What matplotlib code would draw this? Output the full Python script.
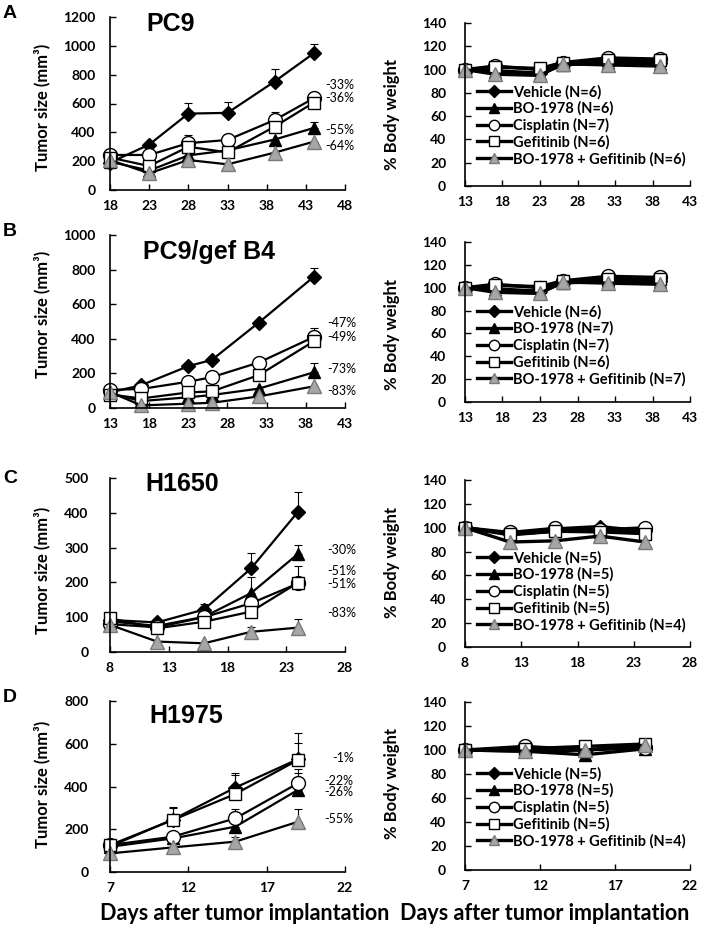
import matplotlib.pyplot as plt
import numpy as np

plt.rcParams['font.family'] = ['Lato', 'DejaVu Sans']
plt.rcParams['font.weight'] = 'bold'

nan = np.nan
series = ["Vehicle", "BO-1978", "Cisplatin", "Gefitinib", "BO-1978 + Gefitinib"]

# ---- A: PC9 tumor size ----
pc9_days = [18, 23, 28, 33, 39, 44]
pc9_vehicle = [190, 315, 530, 535, 752, 948]
pc9_vehicle_err = [nan, nan, 75, 75, 85, 62]
pc9_bo = [196, 135, 240, 275, 350, 430]
pc9_bo_err = [nan, nan, nan, nan, nan, 40]
pc9_cis = [243, 243, 325, 347, 485, 636]
pc9_cis_err = [nan, nan, 55, nan, 55, 40]
pc9_gef = [225, 166, 300, 261, 439, 606]
pc9_gef_err = [nan, nan, nan, nan, nan, nan]
pc9_combo = [208, 116, 208, 178, 259, 335]
pc9_combo_err = [nan, nan, nan, nan, nan, nan]
pc9_pct = ["-33%", "-36%", "-55%", "-64%"]
pc9_pct_y = [728, 638, 416, 305]
pc9_pct_x = [45.5, 45.5, 45.5, 45.5]

# ---- B: PC9/gef B4 tumor size ----
b4_days = [13, 17, 23, 26, 32, 39]
b4_vehicle = [90, 132, 242, 278, 494, 758]
b4_vehicle_err = [nan, nan, nan, nan, nan, 50]
b4_bo = [85, 40, 62, 75, 112, 206]
b4_bo_err = [nan, nan, nan, nan, nan, 57]
b4_cis = [105, 110, 152, 178, 263, 410]
b4_cis_err = [nan, nan, nan, nan, nan, 50]
b4_gef = [78, 55, 90, 96, 190, 385]
b4_gef_err = [nan, nan, nan, nan, nan, nan]
b4_combo = [92, 15, 25, 30, 67, 125]
b4_combo_err = [nan, nan, nan, nan, nan, nan]
b4_pct = ["-47%", "-49%", "-73%", "-83%"]
b4_pct_y = [490, 410, 225, 96]
b4_pct_x = [40.7, 40.7, 40.7, 40.7]

# ---- C: H1650 tumor size ----
h1650_days = [8, 12, 16, 20, 24]
h1650_vehicle = [92, 85, 122, 240, 403]
h1650_vehicle_err = [nan, nan, 15, 44, 57]
h1650_bo = [88, 75, 101, 169, 282]
h1650_bo_err = [nan, nan, nan, 47, 26]
h1650_cis = [80, 71, 100, 140, 197]
h1650_cis_err = [nan, nan, nan, nan, nan]
h1650_gef = [97, 68, 87, 116, 199]
h1650_gef_err = [nan, nan, nan, nan, 47]
h1650_combo = [78, 30, 25, 58, 70]
h1650_combo_err = [nan, nan, nan, 13, 25]
h1650_pct = ["-30%", "-51%", "-51%", "-83%"]
h1650_pct_y = [293, 233, 195, 111]
h1650_pct_x = [26.5, 26.5, 26.5, 26.5]

# ---- D: H1975 tumor size ----
h1975_days = [7, 11, 15, 19]
h1975_vehicle = [120, 245, 395, 528]
h1975_vehicle_err = [nan, 57, 68, 122]
h1975_bo = [118, 157, 212, 384]
h1975_bo_err = [nan, nan, nan, 80]
h1975_cis = [126, 165, 251, 415]
h1975_cis_err = [nan, nan, 45, 68]
h1975_gef = [126, 243, 365, 524]
h1975_gef_err = [nan, 55, 90, 80]
h1975_combo = [87, 115, 142, 235]
h1975_combo_err = [nan, nan, 23, 58]
h1975_pct = ["-1%", "-22%", "-26%", "-55%"]
h1975_pct_y = [533, 428, 376, 247]
h1975_pct_x = [21.2, 20.7, 20.7, 20.7]

# ---- body weight (%) ----
bw_ab_days = [13, 17, 23, 26, 32, 39]
bw_ab_vehicle = [100, 99, 97, 105, 107, 106]
bw_ab_bo = [100, 98, 96, 104, 106, 105]
bw_ab_cis = [100, 103, 100, 106, 110, 109]
bw_ab_gef = [100, 102, 101, 106, 108, 108]
bw_ab_combo = [100, 96, 95, 105, 104, 103]

bw_c_days = [8, 12, 16, 20, 24]
bw_c_vehicle = [100, 95, 99, 101, 97]
bw_c_bo = [100, 94, 97, 99, 96]
bw_c_cis = [100, 96, 99.5, 98, 100]
bw_c_gef = [100, 94.5, 97, 96.5, 95]
bw_c_combo = [100, 88, 89, 93, 88]

bw_d_days = [7, 11, 15, 19]
bw_d_vehicle = [100, 101, 100, 103]
bw_d_bo = [100, 99, 96, 101]
bw_d_cis = [100, 103, 100, 102]
bw_d_gef = [100, 101, 103, 105]
bw_d_combo = [100, 99, 100, 104]

n_a = [6, 6, 7, 6, 6]
n_b = [6, 7, 7, 6, 7]
n_c = [5, 5, 5, 5, 4]
n_d = [5, 5, 5, 5, 4]

styles = [
    dict(marker="D", ms=7.5, mfc="black", mec="black"),
    dict(marker="^", ms=9, mfc="black", mec="black"),
    dict(marker="o", ms=10, mfc="white", mec="black", mew=1),
    dict(marker="s", ms=9, mfc="white", mec="black", mew=1),
    dict(marker="^", ms=10.5, mfc="#a6a6a6", mec="#7a7a7a", mew=1),
]

W, H = 707, 926
fig = plt.figure(figsize=(W / 100, H / 100), dpi=100)


def px_axes(x0, x1, ytop, ybot):
    return fig.add_axes([x0 / W, 1 - ybot / H, (x1 - x0) / W, (ybot - ytop) / H])


def style_axes(ax, xlim, xstep, ylim, ystep, ypad):
    ax.set_xlim(*xlim)
    ax.set_ylim(*ylim)
    ax.set_xticks(np.arange(xlim[0], xlim[1] + 0.1, xstep))
    ax.set_yticks(np.arange(ylim[0], ylim[1] + 0.1, ystep))
    for s in ["top", "right"]:
        ax.spines[s].set_visible(False)
    for s in ["left", "bottom"]:
        ax.spines[s].set_linewidth(1.2)
    ax.tick_params(axis="both", direction="in", length=4, width=1, labelsize=10)
    ax.tick_params(axis="x", pad=7)
    ax.tick_params(axis="y", pad=ypad)


def tumor_panel(ax, days, vals, errs, pct, pct_y, pct_x):
    for v, e, st in zip(vals, errs, styles):
        v = np.array(v, float)
        e = np.array(e, float)
        ax.errorbar(days, v, yerr=[np.zeros_like(e), e], fmt="none", ecolor="black",
                    elinewidth=0.8, capsize=3, capthick=0.8, zorder=1, clip_on=False)
        ax.plot(days, v, color="black", lw=1.6, zorder=2, clip_on=False, **st)
    for t, y, x in zip(pct, pct_y, pct_x):
        ax.text(x, y, t, ha="left", va="center", fontsize=9, fontweight="normal",
                clip_on=False)
    ax.set_ylabel("Tumor size (mm³)", fontsize=12, fontweight="bold")


def weight_panel(ax, days, vals, ns, leg_y):
    handles = []
    for v, st, name, n in zip(vals, styles, series, ns):
        ln, = ax.plot(days, v, color="black", lw=2.4, zorder=2, clip_on=False,
                      label=f"{name} (N={n})", **st)
        handles.append(ln)
    ax.legend(handles=handles, loc="upper left", bbox_to_anchor=(0.055, leg_y),
              frameon=False, handlelength=2.3, handletextpad=0.15, markerscale=0.75,
              labelspacing=0.14, borderpad=0, borderaxespad=0,
              prop=dict(weight="bold", size=10.5))
    ax.set_ylabel("% Body weight", fontsize=12, fontweight="bold")


rows = [
    dict(lt=(17, 190), rt=(23, 186), title="PC9", title_xy=(171, 24), letter="A", letter_y=14,
         days=pc9_days, vals=[pc9_vehicle, pc9_bo, pc9_cis, pc9_gef, pc9_combo],
         errs=[pc9_vehicle_err, pc9_bo_err, pc9_cis_err, pc9_gef_err, pc9_combo_err],
         pct=(pc9_pct, pc9_pct_y, pc9_pct_x), xlim=(18, 48), ylim=(0, 1200), ystep=200,
         bw_days=bw_ab_days, bw=[bw_ab_vehicle, bw_ab_bo, bw_ab_cis, bw_ab_gef, bw_ab_combo],
         bw_xlim=(13, 43), ns=n_a, leg_y=0.62, ylab=(0.48, 0.436), ypad=10.5),
    dict(lt=(235, 408), rt=(242, 402), title="PC9/gef B4", title_xy=(209, 252), letter="B", letter_y=232,
         days=b4_days, vals=[b4_vehicle, b4_bo, b4_cis, b4_gef, b4_combo],
         errs=[b4_vehicle_err, b4_bo_err, b4_cis_err, b4_gef_err, b4_combo_err],
         pct=(b4_pct, b4_pct_y, b4_pct_x), xlim=(13, 43), ylim=(0, 1000), ystep=200,
         bw_days=bw_ab_days, bw=[bw_ab_vehicle, bw_ab_bo, bw_ab_cis, bw_ab_gef, bw_ab_combo],
         bw_xlim=(13, 43), ns=n_b, leg_y=0.606, ylab=(0.54, 0.425), ypad=10.5),
    dict(lt=(478, 652), rt=(480, 647), title="H1650", title_xy=(182, 484), letter="C", letter_y=478,
         days=h1650_days, vals=[h1650_vehicle, h1650_bo, h1650_cis, h1650_gef, h1650_combo],
         errs=[h1650_vehicle_err, h1650_bo_err, h1650_cis_err, h1650_gef_err, h1650_combo_err],
         pct=(h1650_pct, h1650_pct_y, h1650_pct_x), xlim=(8, 28), ylim=(0, 500), ystep=100,
         bw_days=bw_c_days, bw=[bw_c_vehicle, bw_c_bo, bw_c_cis, bw_c_gef, bw_c_combo],
         bw_xlim=(8, 28), ns=n_c, leg_y=0.575, ylab=(0.47, 0.506), ypad=15.5),
    dict(lt=(701, 872), rt=(702, 870), title="H1975", title_xy=(186, 716), letter="D", letter_y=698,
         days=h1975_days, vals=[h1975_vehicle, h1975_bo, h1975_cis, h1975_gef, h1975_combo],
         errs=[h1975_vehicle_err, h1975_bo_err, h1975_cis_err, h1975_gef_err, h1975_combo_err],
         pct=(h1975_pct, h1975_pct_y, h1975_pct_x), xlim=(7, 22), ylim=(0, 800), ystep=200,
         bw_days=bw_d_days, bw=[bw_d_vehicle, bw_d_bo, bw_d_cis, bw_d_gef, bw_d_combo],
         bw_xlim=(7, 22), ns=n_d, leg_y=0.613, ylab=(0.51, 0.512), ypad=15.5),
]

for r in rows:
    axl = px_axes(110, 345, *r["lt"])
    style_axes(axl, r["xlim"], 5, r["ylim"], r["ystep"], r["ypad"])
    tumor_panel(axl, r["days"], r["vals"], r["errs"], *r["pct"])
    axl.yaxis.set_label_coords(-0.255, r["ylab"][0])

    axr = px_axes(465, 690, *r["rt"])
    style_axes(axr, r["bw_xlim"], 5, (0, 140), 20, 13.5)
    weight_panel(axr, r["bw_days"], r["bw"], r["ns"], r["leg_y"])
    axr.yaxis.set_label_coords(-0.289, r["ylab"][1])

    tx, ty = r["title_xy"]
    fig.text(tx / W, 1 - ty / H, r["title"], ha="center", va="center",
             fontsize=18, fontweight="bold", family="Liberation Sans")
    fig.text(10 / W, 1 - r["letter_y"] / H, r["letter"], ha="center", va="center",
             fontsize=14, fontweight="bold", family="Liberation Sans")

fig.text(245 / W, 1 - 914 / H, "Days after tumor implantation", ha="center", va="center",
         fontsize=15.5, fontweight="bold")
fig.text(545 / W, 1 - 914 / H, "Days after tumor implantation", ha="center", va="center",
         fontsize=15.5, fontweight="bold")

fig.savefig("out.png", dpi=100, facecolor="white")
